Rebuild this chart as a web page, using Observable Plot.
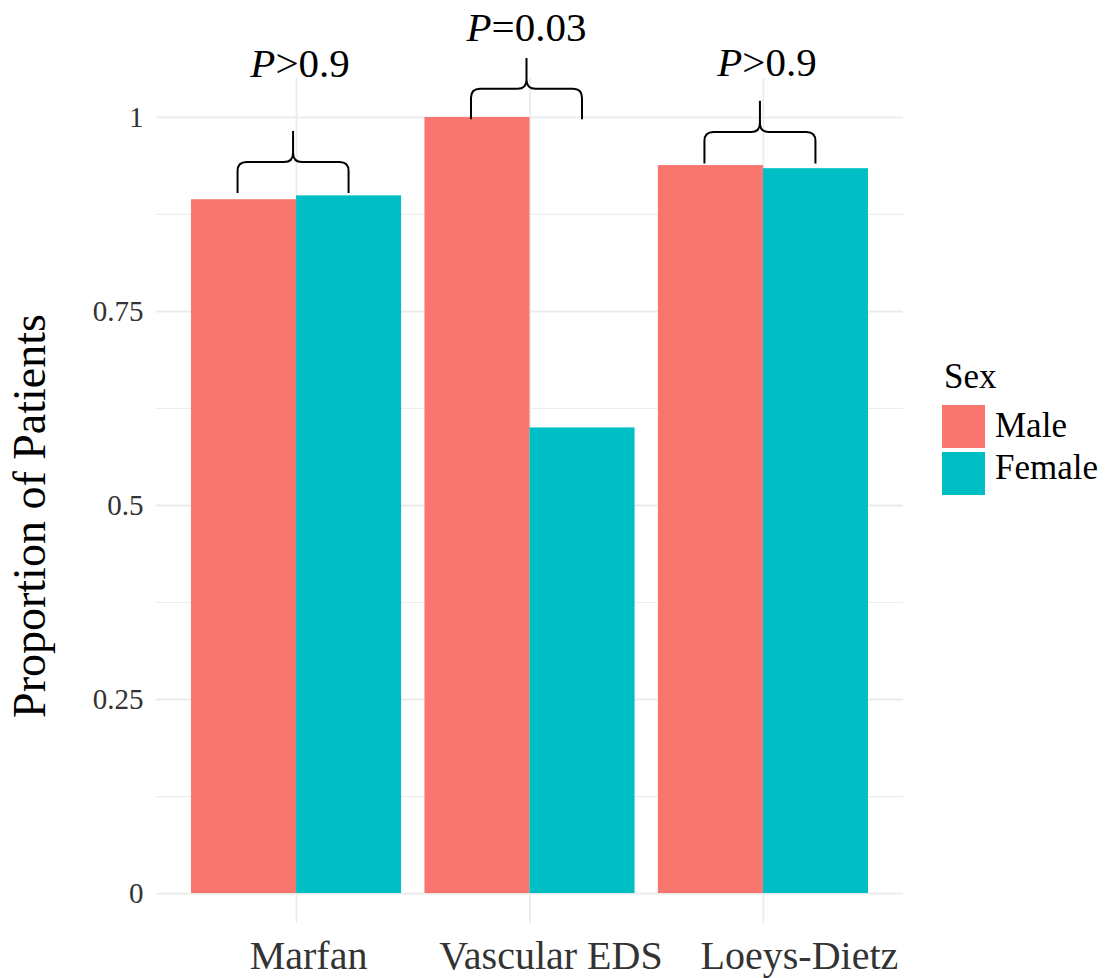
<!DOCTYPE html>
<html><head><meta charset="utf-8">
<script src="https://cdn.jsdelivr.net/npm/d3@7"></script>
<script src="https://cdn.jsdelivr.net/npm/@observablehq/plot@0.6"></script>
<style>body{margin:0;background:#fff;} #chart svg{display:block;}</style>
</head><body><div id="chart"></div>
<script>
const categories = ["Marfan", "Vascular EDS", "Loeys-Dietz"];
const sexes = ["Male", "Female"];
const maleValues = [0.894, 1.0, 0.938];
const femaleValues = [0.899, 0.60, 0.934];
const sexColors = ["#F8766D", "#00BFC4"];
const yTicks = [0, 0.25, 0.5, 0.75, 1];
const yMinorTicks = [0.125, 0.375, 0.625, 0.875];
const pComparisons = [">0.9", "=0.03", ">0.9"];
const braceBottom = [0.902, 0.997, 0.940];
const braceTop = [0.982, 1.076, 1.021];
const pLabelY = [1.0515, 1.0978, 1.0528];

const rows = categories.flatMap((c, i) => [
  {category: c, index: i, sex: sexes[0], value: maleValues[i]},
  {category: c, index: i, sex: sexes[1], value: femaleValues[i]}
]);
const annotations = categories.map((c, i) => ({index: i, op: pComparisons[i], bottom: braceBottom[i], top: braceTop[i], labelY: pLabelY[i]}));

const dodge = 0.45;
const labelShift = [12, 21, 36];
const FONT = "'Liberation Serif', 'DejaVu Serif', serif";

function annotationMark(index, scales, values, dims) {
  const {x, y} = scales;
  const color = scales.color || (s => sexColors[sexes.indexOf(s)]);
  const g = d3.create("svg:g");
  for (const a of annotations) {
    const xc = x(a.index) - 3, xl = xc - 55.5, xr = xc + 55.5;
    const yb = y(a.bottom), yt = y(a.top), ym = (yb + yt) / 2;
    const r = 9;
    const p = d3.path();
    p.moveTo(xl, yb); p.lineTo(xl, ym + r); p.quadraticCurveTo(xl, ym, xl + r, ym);
    p.lineTo(xc - r, ym); p.quadraticCurveTo(xc, ym, xc, ym - r); p.lineTo(xc, yt);
    p.moveTo(xr, yb); p.lineTo(xr, ym + r); p.quadraticCurveTo(xr, ym, xr - r, ym);
    p.lineTo(xc + r, ym); p.quadraticCurveTo(xc, ym, xc, ym - r);
    g.append("path").attr("d", p.toString()).attr("fill", "none").attr("stroke", "black").attr("stroke-width", 2);
    const t = g.append("text").attr("x", x(a.index) + (a.index === 1 ? -3 : 4)).attr("y", y(a.labelY)).attr("text-anchor", "middle")
      .attr("font-size", 41).attr("font-family", FONT).attr("fill", "black");
    t.append("tspan").attr("font-style", "italic").text("P");
    t.append("tspan").text(a.op);
  }
  // legend
  const lg = g.append("g").attr("font-family", FONT).attr("fill", "black").attr("text-anchor", "start");
  lg.append("text").attr("x", 944).attr("y", 388).attr("font-size", 35).text("Sex");
  sexes.forEach((s, i) => {
    lg.append("rect").attr("x", 942).attr("y", 405 + i * 47).attr("width", 43).attr("height", 43).attr("fill", color(s));
    lg.append("text").attr("x", 995).attr("y", 437 + i * 42).attr("font-size", 35).text(s);
  });
  return g.node();
}

const chart = Plot.plot({
  width: 1109,
  height: 978,
  marginLeft: 156,
  marginRight: 206,
  marginTop: 78,
  marginBottom: 55,
  style: {fontFamily: FONT, color: "#333", background: "white"},
  x: {domain: [-0.6, 2.6]},
  y: {domain: [-0.0386, 1.0502]},
  color: {domain: sexes, range: sexColors},
  marks: [
    Plot.ruleY(yMinorTicks, {stroke: "#ededed", strokeWidth: 1.2}),
    Plot.ruleY(yTicks, {stroke: "#ebebeb", strokeWidth: 1.8}),
    Plot.ruleX([0, 1, 2], {stroke: "#ebebeb", strokeWidth: 1.8}),
    Plot.rect(rows, {
      x1: d => d.index + (d.sex === "Male" ? -dodge : 0),
      x2: d => d.index + (d.sex === "Male" ? 0 : dodge),
      y1: 0, y2: "value", fill: "sex"
    }),
    Plot.axisY({ticks: yTicks, tickFormat: d => String(d), tickSize: 0, tickPadding: 13, fontSize: 29, label: null}),
    ...categories.map((c, i) => Plot.axisX({ticks: [i], tickFormat: j => categories[j], tickSize: 0, tickPadding: 17, fontSize: 40, label: null, dx: labelShift[i]})),
    Plot.text(["Proportion of Patients"], {frameAnchor: "left", textAnchor: "middle", rotate: -90, dx: -126, dy: 15, fontSize: 46, fill: "black", text: d => d}),
    annotationMark
  ]
});
document.getElementById("chart").append(chart);
</script>
</body></html>
